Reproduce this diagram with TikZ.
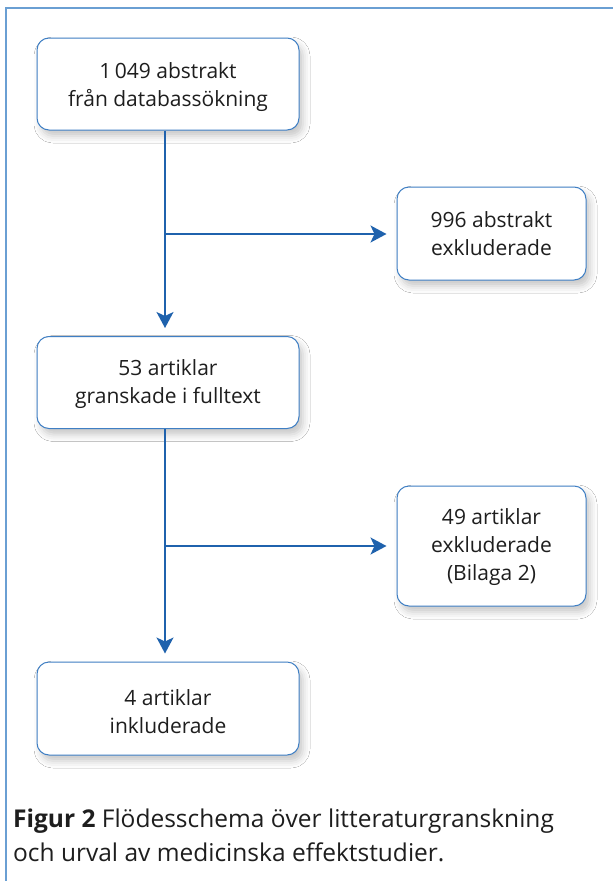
\documentclass[tikz,border=0pt]{standalone}
\usepackage{fontspec}
\setmainfont{Open Sans}
\usetikzlibrary{arrows.meta,shadows.blur}
\definecolor{boxblue}{HTML}{3F7FC4}
\definecolor{arrblue}{HTML}{1F62AD}
\definecolor{frameblue}{HTML}{6A9FD3}
\definecolor{txt}{HTML}{1E1E1E}
\begin{document}
\begin{tikzpicture}[x=1pt,y=-1pt,
  box/.style={draw=boxblue, line width=1pt, fill=white, rounded corners=12pt,
    minimum width=262pt, minimum height=92pt,
    blur shadow={shadow xshift=4pt, shadow yshift=-6pt, shadow blur radius=7pt, shadow opacity=22}},
  sidebox/.style={box, minimum width=189pt},
  boxtext/.style={align=center, text=txt, font=\fontsize{21}{28}\selectfont},
  conn/.style={draw=arrblue, line width=1.6pt},
  arr/.style={conn, -{Stealth[length=16pt,width=17pt,inset=4pt]}}]
\useasboundingbox (0,0) rectangle (613,881);
\fill[white] (0,0) rectangle (613,881);
\draw[frameblue, line width=1.2pt] (6,881) -- (6,8) -- (613,8);
\node[box] (b1) at (168,84) {};
\node[boxtext] (t1) at ([yshift=-3pt]b1.center) {1\,049 abstrakt\\från databassökning};
\node[sidebox, minimum height=93pt] (b2) at (491.5,233.5) {};
\node[boxtext] (t2) at (b2.center) {996 abstrakt\\exkluderade};
\node[box] (b3) at (168,382.5) {};
\node[boxtext] (t3) at ([yshift=-2pt]b3.center) {53 artiklar\\granskade i fulltext};
\node[sidebox, minimum height=120pt] (b4) at (491.5,546) {};
\node[boxtext] (t4) at ([yshift=-1pt]b4.center) {49 artiklar\\exkluderade\\(Bilaga 2)};
\node[box, minimum height=93pt] (b5) at (168,708.5) {};
\node[boxtext] (t5) at ([yshift=-3pt]b5.center) {4 artiklar\\inkluderade};
\coordinate (j1) at (165,234);
\coordinate (j2) at (165,546);
\draw[arr] (b1.south -| j1) -- ([yshift=8pt]b3.north -| j1);
\draw[arr] (j1) -- ([xshift=-10pt]b2.west |- j1);
\draw[arr] (b3.south -| j2) -- ([yshift=8pt]b5.north -| j2);
\draw[arr] (j2) -- ([xshift=-10pt]b4.west |- j2);
\node[anchor=north west, align=left, text=txt, font=\fontsize{24.5}{34}\selectfont, inner sep=0pt] (cap) at (13,809)
  {\textbf{Figur 2} Flödesschema över litteraturgranskning\\och urval av medicinska effektstudier.};
\end{tikzpicture}
\end{document}
